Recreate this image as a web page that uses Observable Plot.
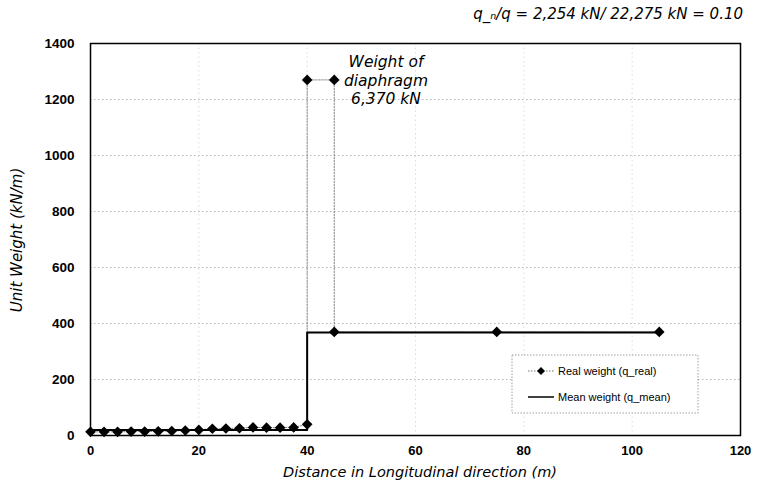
<!DOCTYPE html>
<html>
<head>
<meta charset="utf-8">
<script src="https://cdn.jsdelivr.net/npm/d3@7"></script>
<script src="https://cdn.jsdelivr.net/npm/@observablehq/plot@0.6"></script>
<style>
  html, body { margin: 0; padding: 0; background: #fff; }
  #chart { width: 758px; height: 492px; }
</style>
</head>
<body>
<div id="chart"></div>
<script>
// Real weight series (q_real)
const realX = [0, 2.5, 5, 7.5, 10, 12.5, 15, 17.5, 20, 22.5, 25, 27.5, 30, 32.5, 35, 37.5, 40, 40, 45, 45, 75, 105];
const realY = [13, 13, 13, 14, 14, 15, 16, 18, 20, 24, 25, 26, 29, 28, 28, 29, 40, 1270, 1270, 370, 370, 370];
// Mean weight series (q_mean)
const meanX = [0, 40, 40, 105];
const meanY = [20, 20, 368, 368];

const xTicks = [0, 20, 40, 60, 80, 100, 120];
const yTicks = [0, 200, 400, 600, 800, 1000, 1200, 1400];

const titleText = "q_\u2099/q = 2,254 kN/ 22,275 kN = 0.10";
const noteLines = ["Weight of", "diaphragm", "6,370 kN"];
const xLabel = "Distance in Longitudinal direction (m)";
const yLabel = "Unit Weight (kN/m)";
const legendLabels = ["Real weight (q_real)", "Mean weight (q_mean)"];

const real = realX.map((x, i) => ({x, y: realY[i]}));
const mean = meanX.map((x, i) => ({x, y: meanY[i]}));

const italic = "'DejaVu Sans', Verdana, sans-serif";
const bold = "'Liberation Sans', Arial, sans-serif";

const plot = Plot.plot({
  width: 758,
  height: 492,
  marginLeft: 90,
  marginRight: 18,
  marginTop: 43,
  marginBottom: 57,
  style: {fontFamily: bold, fontSize: "12px", background: "#fff", overflow: "visible"},
  x: {domain: [0, 120], ticks: xTicks},
  y: {domain: [0, 1400], ticks: yTicks},
  marks: [
    Plot.gridY(yTicks.slice(1, -1), {stroke: "#999", strokeOpacity: 0.7, strokeDasharray: "1.5,2.5"}),
    Plot.gridX(xTicks.slice(1, -1), {stroke: "#bbb", strokeOpacity: 0.5, strokeDasharray: "1.5,3"}),
    Plot.axisX({ticks: xTicks, tickSize: 0, tickPadding: 10, tickFormat: d => String(d), fontWeight: "bold", fontSize: 13, fill: "#000", label: null}),
    Plot.axisY({ticks: yTicks, tickSize: 0, tickPadding: 16, tickFormat: d => String(d), fontWeight: "bold", fontSize: 13.5, fill: "#000", label: null}),
    Plot.line(real, {x: "x", y: "y", stroke: "#777", strokeWidth: 0.9, strokeDasharray: "1.5,1.5"}),
    Plot.line(mean, {x: "x", y: "y", stroke: "#000", strokeWidth: 2}),
    Plot.dot(real, {x: "x", y: "y", symbol: "diamond2", r: 4.8, fill: "#000", stroke: "none"}),
    Plot.frame({stroke: "#000", strokeWidth: 1.5})
  ]
});

document.getElementById("chart").appendChild(plot);

const svg = d3.select(plot);

// Title at top right
svg.append("text")
  .attr("x", 743).attr("y", 19)
  .attr("text-anchor", "end")
  .style("font-family", italic).style("font-style", "italic").style("font-size", "15px")
  .text(titleText);

// Axis labels
svg.append("text")
  .attr("x", 420).attr("y", 477)
  .attr("text-anchor", "middle")
  .style("font-family", italic).style("font-style", "italic").style("font-size", "14.5px")
  .text(xLabel);
svg.append("text")
  .attr("transform", "translate(22,240) rotate(-90)")
  .attr("text-anchor", "middle")
  .style("font-family", italic).style("font-style", "italic").style("font-size", "15px")
  .text(yLabel);

// Annotation
const note = svg.append("text")
  .attr("text-anchor", "middle")
  .style("font-family", italic).style("font-style", "italic").style("font-size", "15.5px");
noteLines.forEach((t, i) => {
  note.append("tspan").attr("x", 386).attr("y", 67 + i * 18.5).text(t);
});

// Legend
const lg = svg.append("g");
lg.append("rect").attr("x", 512).attr("y", 355).attr("width", 186).attr("height", 58)
  .attr("fill", "#fff").attr("stroke", "#888").attr("stroke-width", 0.8).attr("stroke-dasharray", "1.5,1.5");
lg.append("line").attr("x1", 528).attr("x2", 554).attr("y1", 371).attr("y2", 371)
  .attr("stroke", "#777").attr("stroke-dasharray", "1.5,1.5");
lg.append("path").attr("d", d3.symbol(d3.symbolDiamond2, 40)()).attr("transform", "translate(541,371)").attr("fill", "#000");
lg.append("line").attr("x1", 528).attr("x2", 554).attr("y1", 397).attr("y2", 397)
  .attr("stroke", "#000").attr("stroke-width", 1.5);
legendLabels.forEach((t, i) => {
  lg.append("text").attr("x", 558).attr("y", 375 + i * 26)
    .attr("text-anchor", "start")
    .style("font-family", "'Liberation Sans', Arial, sans-serif").style("font-size", "11px")
    .text(t);
});
</script>
</body>
</html>
